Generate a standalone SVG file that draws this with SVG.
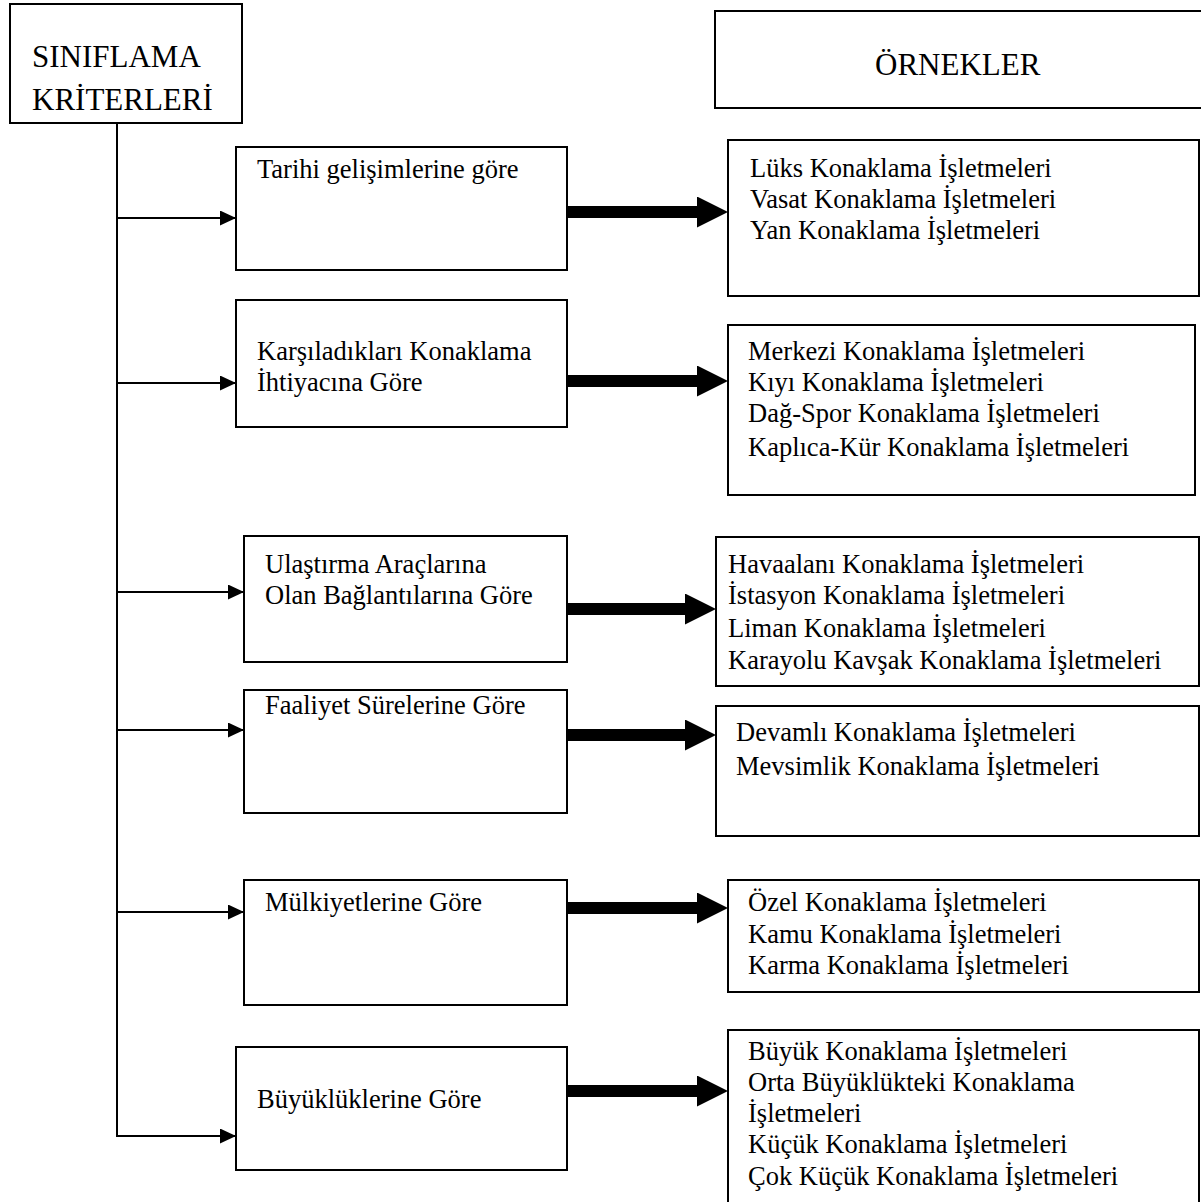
<svg xmlns="http://www.w3.org/2000/svg" width="1201" height="1202" viewBox="0 0 1201 1202">
  <style>
    .box { fill: #fff; stroke: #000; stroke-width: 2; }
    .head { font-family: "Liberation Serif", "Times New Roman", serif; font-size: 31px; fill: #000; }
    .txt { font-family: "Liberation Serif", "Times New Roman", serif; font-size: 26.5px; fill: #000; }
    .thin { stroke: #000; stroke-width: 2; fill: none; }
    .thick { stroke: #000; stroke-width: 12; fill: none; }
  </style>
  <defs>
    <marker id="arrowThin" markerUnits="userSpaceOnUse" markerWidth="16" markerHeight="15" refX="16" refY="7.5" orient="auto">
      <path d="M0,0 L16,7.5 L0,15 Z" fill="#000"/>
    </marker>
    <marker id="arrowThick" markerUnits="userSpaceOnUse" markerWidth="31" markerHeight="31" refX="3" refY="15.5" orient="auto">
      <path d="M0,0 L31,15.5 L0,31 Z" fill="#000"/>
    </marker>
  </defs>
  <rect width="1201" height="1202" fill="#fff"/>

  <!-- headers -->
  <g id="siniflama">
    <rect class="box" x="10" y="4" width="232" height="119"/>
    <text class="head" x="32" y="67">SINIFLAMA</text>
    <text class="head" x="32" y="110">KRİTERLERİ</text>
  </g>
  <g id="ornekler">
    <rect class="box" x="715" y="11" width="492" height="97"/>
    <text class="head" x="875" y="75">ÖRNEKLER</text>
  </g>

  <!-- criteria -->
  <g id="c-tarihi">
    <rect class="box" x="236" y="147" width="331" height="123"/>
    <text class="txt" x="257" y="178">Tarihi gelişimlerine göre</text>
  </g>
  <g id="c-karsiladiklari">
    <rect class="box" x="236" y="300" width="331" height="127"/>
    <text class="txt" x="257" y="360">Karşıladıkları Konaklama</text>
    <text class="txt" x="257" y="391">İhtiyacına Göre</text>
  </g>
  <g id="c-ulastirma">
    <rect class="box" x="244" y="536" width="323" height="126"/>
    <text class="txt" x="265" y="573">Ulaştırma Araçlarına</text>
    <text class="txt" x="265" y="604">Olan Bağlantılarına Göre</text>
  </g>
  <g id="c-faaliyet">
    <rect class="box" x="244" y="690" width="323" height="123"/>
    <text class="txt" x="265" y="714">Faaliyet Sürelerine Göre</text>
  </g>
  <g id="c-mulkiyet">
    <rect class="box" x="244" y="880" width="323" height="125"/>
    <text class="txt" x="265" y="911">Mülkiyetlerine Göre</text>
  </g>
  <g id="c-buyukluk">
    <rect class="box" x="236" y="1047" width="331" height="123"/>
    <text class="txt" x="257" y="1108">Büyüklüklerine Göre</text>
  </g>

  <!-- examples -->
  <g id="e-tarihi">
    <rect class="box" x="728" y="140" width="471" height="156"/>
    <text class="txt" x="750" y="177">Lüks Konaklama İşletmeleri</text>
    <text class="txt" x="750" y="208">Vasat Konaklama İşletmeleri</text>
    <text class="txt" x="750" y="239">Yan Konaklama İşletmeleri</text>
  </g>
  <g id="e-karsiladiklari">
    <rect class="box" x="728" y="325" width="467" height="170"/>
    <text class="txt" x="748" y="360">Merkezi Konaklama İşletmeleri</text>
    <text class="txt" x="748" y="391">Kıyı Konaklama İşletmeleri</text>
    <text class="txt" x="748" y="422">Dağ-Spor Konaklama İşletmeleri</text>
    <text class="txt" x="748" y="456">Kaplıca-Kür Konaklama İşletmeleri</text>
  </g>
  <g id="e-ulastirma">
    <rect class="box" x="716" y="537" width="483" height="149"/>
    <text class="txt" x="728" y="573">Havaalanı Konaklama İşletmeleri</text>
    <text class="txt" x="728" y="604">İstasyon Konaklama İşletmeleri</text>
    <text class="txt" x="728" y="637">Liman Konaklama İşletmeleri</text>
    <text class="txt" x="728" y="669">Karayolu Kavşak Konaklama İşletmeleri</text>
  </g>
  <g id="e-faaliyet">
    <rect class="box" x="716" y="706" width="483" height="130"/>
    <text class="txt" x="736" y="741">Devamlı Konaklama İşletmeleri</text>
    <text class="txt" x="736" y="775">Mevsimlik Konaklama İşletmeleri</text>
  </g>
  <g id="e-mulkiyet">
    <rect class="box" x="728" y="880" width="471" height="112"/>
    <text class="txt" x="748" y="911">Özel Konaklama İşletmeleri</text>
    <text class="txt" x="748" y="943">Kamu Konaklama İşletmeleri</text>
    <text class="txt" x="748" y="974">Karma Konaklama İşletmeleri</text>
  </g>
  <g id="e-buyukluk">
    <rect class="box" x="728" y="1030" width="471" height="180"/>
    <text class="txt" x="748" y="1060">Büyük Konaklama İşletmeleri</text>
    <text class="txt" x="748" y="1091">Orta Büyüklükteki Konaklama</text>
    <text class="txt" x="748" y="1122">İşletmeleri</text>
    <text class="txt" x="748" y="1153">Küçük Konaklama İşletmeleri</text>
    <text class="txt" x="748" y="1185">Çok Küçük Konaklama İşletmeleri</text>
  </g>

  <!-- connectors -->
  <g id="connectors">
    <line class="thin" x1="117" y1="123" x2="117" y2="1137"/>
    <line class="thin" x1="116" y1="218" x2="236" y2="218" marker-end="url(#arrowThin)"/>
    <line class="thin" x1="116" y1="383" x2="236" y2="383" marker-end="url(#arrowThin)"/>
    <line class="thin" x1="116" y1="592" x2="244" y2="592" marker-end="url(#arrowThin)"/>
    <line class="thin" x1="116" y1="730" x2="244" y2="730" marker-end="url(#arrowThin)"/>
    <line class="thin" x1="116" y1="912" x2="244" y2="912" marker-end="url(#arrowThin)"/>
    <line class="thin" x1="116" y1="1136" x2="236" y2="1136" marker-end="url(#arrowThin)"/>

    <line class="thick" x1="567" y1="212" x2="700" y2="212" marker-end="url(#arrowThick)"/>
    <line class="thick" x1="567" y1="381" x2="700" y2="381" marker-end="url(#arrowThick)"/>
    <line class="thick" x1="567" y1="609" x2="688" y2="609" marker-end="url(#arrowThick)"/>
    <line class="thick" x1="567" y1="735" x2="688" y2="735" marker-end="url(#arrowThick)"/>
    <line class="thick" x1="567" y1="908" x2="700" y2="908" marker-end="url(#arrowThick)"/>
    <line class="thick" x1="567" y1="1091" x2="700" y2="1091" marker-end="url(#arrowThick)"/>
  </g>
</svg>
